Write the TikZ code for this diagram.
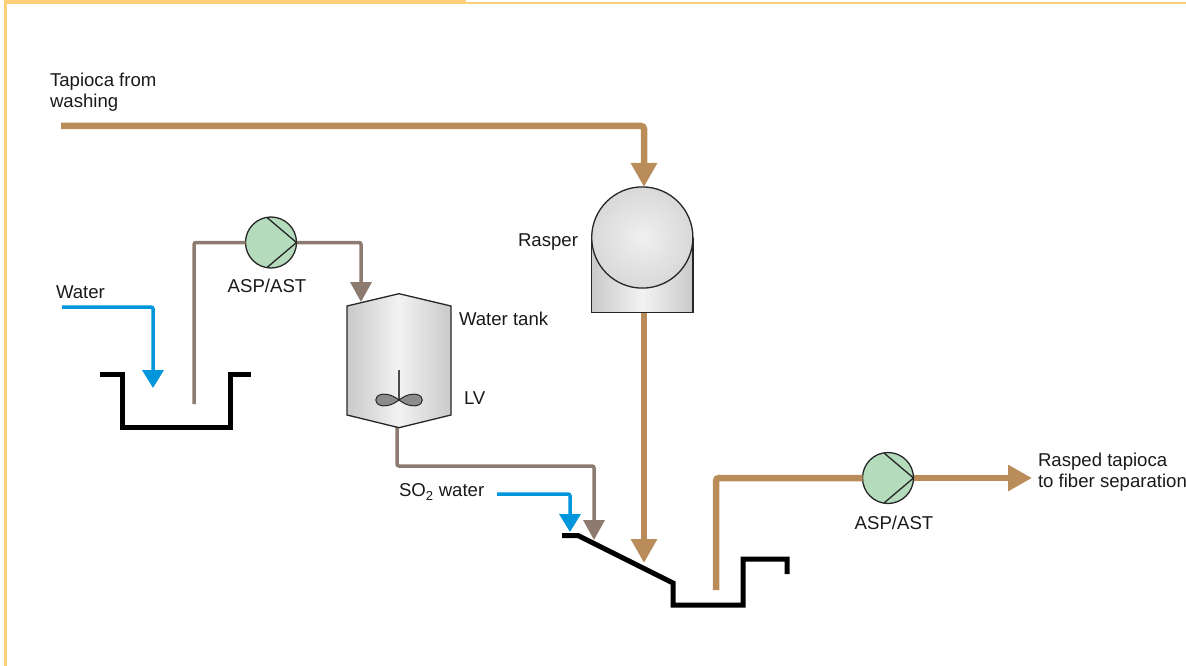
\documentclass[tikz,border=0pt]{standalone}
\usepackage{fontspec}
\setmainfont{Liberation Sans}
\usetikzlibrary{arrows.meta}
\definecolor{frameor}{HTML}{FDCF78}
\definecolor{pulp}{HTML}{B98C5A}
\definecolor{greyflow}{HTML}{8D7B70}
\definecolor{waterb}{HTML}{0096DB}
\definecolor{pumpg}{HTML}{B3DBBC}
\tikzset{
  x=1pt,y=-1pt,
  lbl/.style={inner sep=0pt,outer sep=0pt,font=\fontsize{18.6}{21}\selectfont,align=left,text=black!90},
  pumpnode/.style={circle,draw=black!85,line width=1.3pt,fill=pumpg,minimum size=51pt,inner sep=0pt,outer sep=0pt},
  pulpline/.style={draw=pulp,line width=6.5pt,rounded corners=3pt},
  pulparrow/.style={pulpline,-{Triangle[length=24pt,width=25pt]}},
  greyarrow/.style={draw=greyflow,line width=3.5pt,rounded corners=2pt,-{Triangle[length=20pt,width=21pt]}},
  greyline/.style={draw=greyflow,line width=3.5pt,rounded corners=2pt},
  bluearrow/.style={draw=waterb,line width=3.5pt,rounded corners=2pt,-{Triangle[length=18pt,width=21pt]}},
  vessel/.style={draw=black,line width=5pt,miter limit=10},
  equipline/.style={draw=black!85,line width=1.3pt},
  metal/.style={left color=black!21,right color=black!21,middle color=black!5},
}
\begin{document}
\begin{tikzpicture}
\useasboundingbox (0,0) rectangle (1186,666);
% frame
\fill[frameor] (4,0) rectangle (466,4);
\fill[frameor] (466,2) rectangle (1186,4);
\fill[frameor] (4,0) rectangle (7,666);
% anchors
\coordinate (feedStart) at (61,126);
\coordinate (rasperTop) at (644,187);
\coordinate (rasperBot) at (644,313);
\coordinate (rasperDrop) at (644,563);
\coordinate (takeOff) at (716,590);
\coordinate (outEnd) at (1032,478);
\coordinate (waterStart) at (62,307);
\coordinate (waterEnd) at (153,388);
\coordinate (suction) at (194,404);
\coordinate (tankIn) at (361,302);
\coordinate (tankOut) at (397,427);
\coordinate (greyEnd) at (594,540);
\coordinate (so2Start) at (497,494);
\coordinate (so2End) at (570,532);
% pumps
\node[pumpnode] (pumpA) at (271,242.5) {};
\node[pumpnode] (pumpB) at (888,478) {};
% connectors
\draw[pulparrow] (feedStart) -| (rasperTop);
\draw[pulparrow] (rasperBot) -- (rasperDrop);
\draw[pulpline] (takeOff) |- (pumpB.west);
\draw[pulparrow] (pumpB.east) -- (outEnd);
\draw[bluearrow] (waterStart) -| (waterEnd);
\draw[greyline] (suction) |- (pumpA.west);
\draw[greyarrow] (pumpA.east) -| (tankIn);
\draw[greyarrow] (tankOut) |- (594,466) -- (greyEnd);
\draw[bluearrow] (so2Start) -| (so2End);
% pump symbols
\foreach \p in {pumpA,pumpB}{
  \draw[equipline] ([shift={(-4,-25)}]\p.center) -- (\p.east) -- ([shift={(-4,25)}]\p.center);
}
% rasper
\shade[metal] (591.7,237.5) rectangle (693,312.7);
\draw[equipline] (591.7,237.5) -- (591.7,312.7) -- (693,312.7) -- (693,237.5);
\shade[inner color=black!6,outer color=black!15] (642.3,237.5) circle (50.6);
\draw[equipline] (642.3,237.5) circle (50.6);
% tank
\shade[metal]
  (347,306) -- (399,293.7) -- (451,306) -- (451,415) -- (399,427.7) -- (347,415) -- cycle;
\draw[equipline] (347,306) -- (399,293.7) -- (451,306) -- (451,415) -- (399,427.7) -- (347,415) -- cycle;
\draw[draw=black!70,line width=1.2pt] (399,370) -- (399,400);
\draw[draw=black!85,fill=black!45,line width=1pt]
  (399,400) .. controls (390,393) and (383,394) .. (381,394.5)
  .. controls (374,396) and (374,404) .. (381,405.5)
  .. controls (383,406) and (390,407) .. (399,400)
  .. controls (408,393) and (415,394) .. (417,394.5)
  .. controls (424,396) and (424,404) .. (417,405.5)
  .. controls (415,406) and (408,407) .. (399,400) -- cycle;
% vessels
\draw[vessel] (100,374) -- (122,374) -- (122,427) -- (230,427) -- (230,374) -- (251,374);
\draw[vessel] (562,535.5) -- (578,535.5) -- (673,583) -- (673,605) -- (743,605) -- (743,559) -- (787,559) -- (787,574);
% labels
\node[lbl,anchor=north west] (tTapioca) at (50,73) {Tapioca from\\washing};
\node[lbl,anchor=east] (tRasper) at (578,242) {Rasper};
\node[lbl,anchor=west] (tWater) at (56,292) {Water};
\node[lbl,anchor=center] (tPumpA) at (267,285.5) {ASP/AST};
\node[lbl,anchor=west] (tTank) at (459,319) {Water tank};
\node[lbl,anchor=west] (tLV) at (464,398) {LV};
\node[lbl,anchor=west] (tSO) at (399,492) {SO\textsubscript{2} water};
\node[lbl,anchor=center] (tPumpB) at (894,522.5) {ASP/AST};
\node[lbl,anchor=north west] (tOut) at (1038,453) {Rasped tapioca\\to fiber separation};
\end{tikzpicture}
\end{document}
